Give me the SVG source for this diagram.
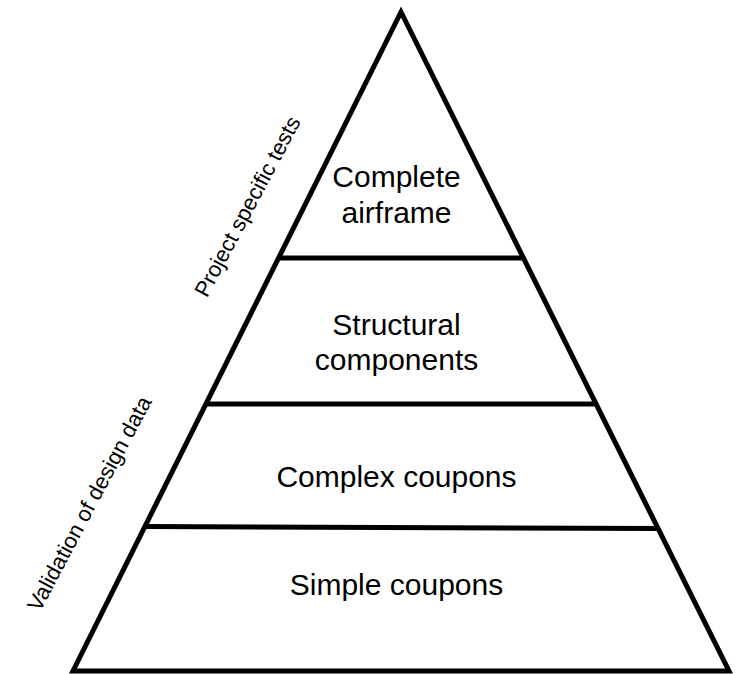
<svg xmlns="http://www.w3.org/2000/svg" width="736" height="674" viewBox="0 0 736 674">
<style>
.edge{fill:none;stroke:#000;stroke-width:5;stroke-linejoin:miter}
.div{stroke:#000;stroke-width:5}
.lbl{font-family:"Liberation Sans",Arial,sans-serif;font-size:30px;fill:#000;text-anchor:middle}
.side{font-family:"Liberation Sans",Arial,sans-serif;font-size:22px;fill:#000;text-anchor:middle}
</style>
<rect width="736" height="674" fill="#fff"/>
<g id="pyramid">
<polygon class="edge" points="401,12 729,671 73,671"/>
</g>
<g id="connectors">
<line class="div" x1="278.6" y1="258" x2="523.4" y2="258"/>
<line class="div" x1="206" y1="404" x2="596" y2="404"/>
<line class="div" x1="145.2" y1="526.5" x2="657.8" y2="528.5"/>
</g>
<g id="complete-airframe">
<text class="lbl" x="396.5" y="187">Complete</text>
<text class="lbl" x="396.5" y="223">airframe</text>
</g>
<g id="structural-components">
<text class="lbl" x="396.5" y="335">Structural</text>
<text class="lbl" x="396.5" y="370">components</text>
</g>
<g id="complex-coupons">
<text class="lbl" x="396.5" y="487">Complex coupons</text>
</g>
<g id="simple-coupons">
<text class="lbl" x="396.5" y="595">Simple coupons</text>
</g>
<g id="project-specific-tests">
<text class="side" transform="translate(254,210) rotate(-62)">Project specific tests</text>
</g>
<g id="validation-of-design-data">
<text class="side" transform="translate(96,507) rotate(-62)">Validation of design data</text>
</g>
</svg>
